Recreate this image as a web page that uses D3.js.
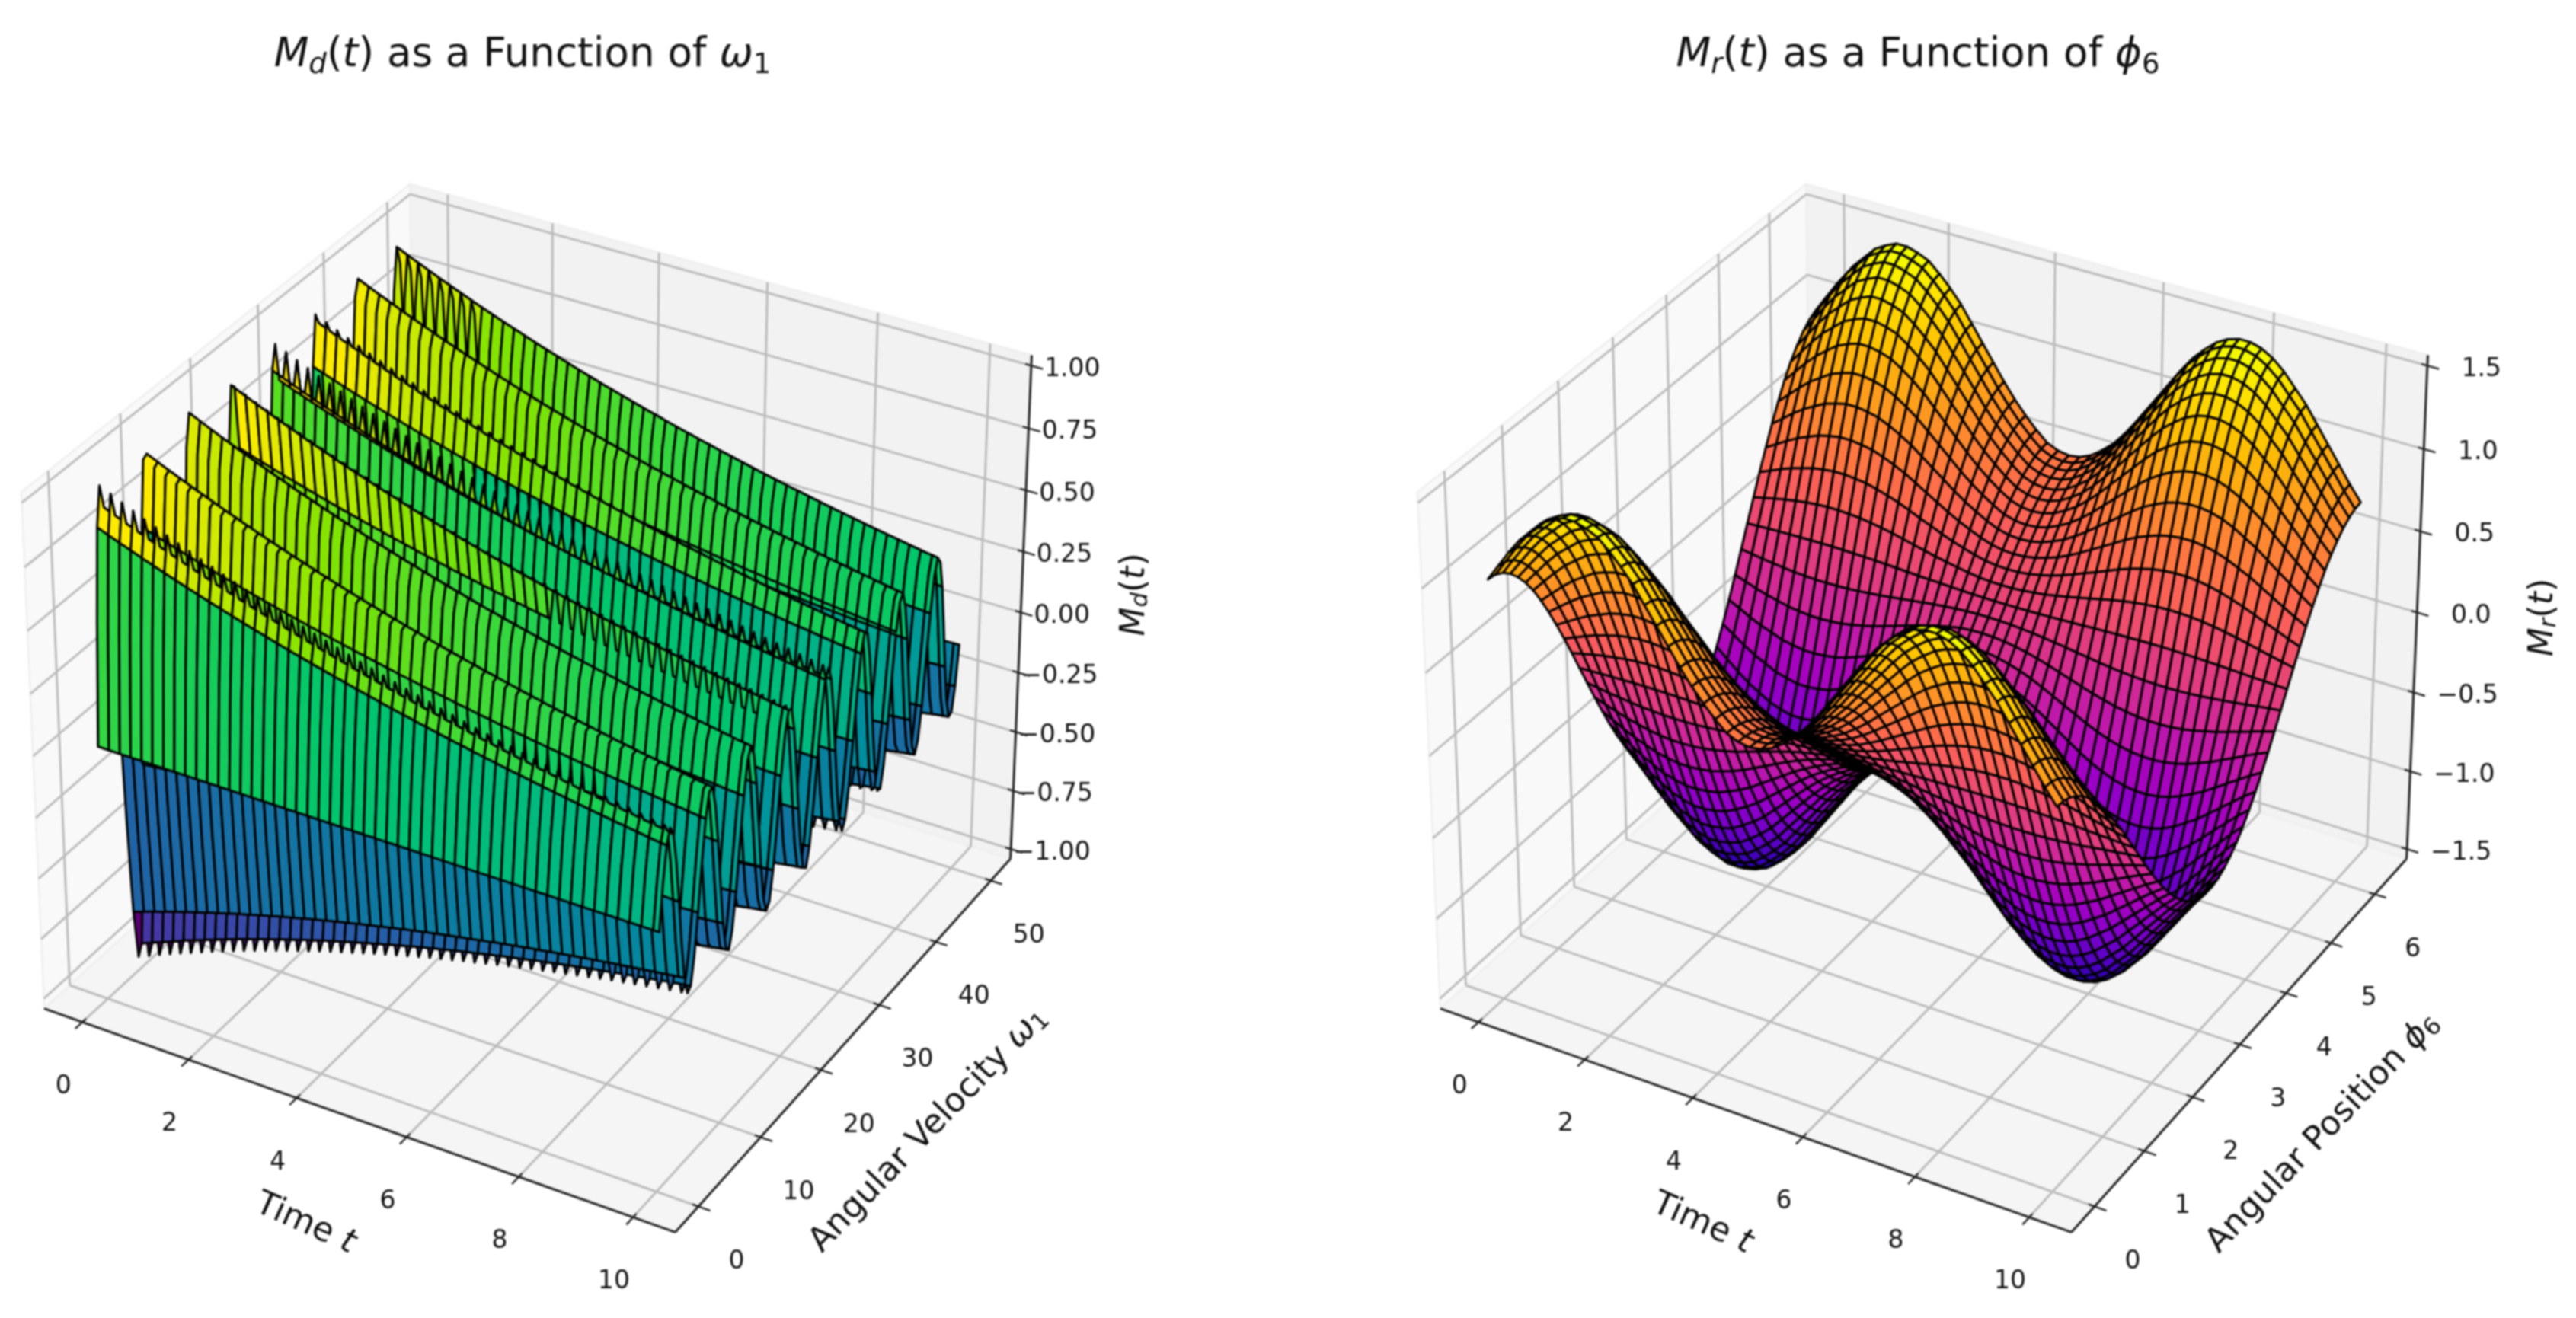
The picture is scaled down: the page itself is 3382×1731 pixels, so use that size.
<!DOCTYPE html>
<html>
<head>
<meta charset="utf-8">
<script src="https://cdn.jsdelivr.net/npm/d3@7"></script>
<style>
  html, body { margin: 0; padding: 0; background: #fff; }
  svg { display: block; filter: blur(0.8px); }
  text { font-family: "DejaVu Sans", sans-serif; fill: #111; }
</style>
</head>
<body>
<svg id="chart" width="3382" height="1731"></svg>
<script>
// ---- left surface: readings along time and along angular velocity
var velocityTicks = [0, 10, 20, 30, 40, 50];
var timeTicks = [0, 2, 4, 6, 8, 10];
var dampedTicks = [-1, -0.75, -0.5, -0.25, 0, 0.25, 0.5, 0.75, 1];

var dampedTime = [0,.101,.202,.303,.404,.505,.606,.707,.808,.909,1.01,1.111,1.212,1.313,1.414,1.515,1.616,1.717,1.818,1.919,2.02,2.121,2.222,2.323,2.424,2.525,2.626,2.727,2.828,2.929,3.03,3.131,3.232,3.333,3.434,3.535,3.636,3.737,3.838,3.939,4.04,4.141,4.242,4.343,4.444,4.545,4.646,4.747,4.848,4.949,5.051,5.152,5.253,5.354,5.455,5.556,5.657,5.758,5.859,5.96,6.061,6.162,6.263,6.364,6.465,6.566,6.667,6.768,6.869,6.97,7.071,7.172,7.273,7.374,7.475,7.576,7.677,7.778,7.879,7.98,8.081,8.182,8.283,8.384,8.485,8.586,8.687,8.788,8.889,8.99,9.091,9.192,9.293,9.394,9.495,9.596,9.697,9.798,9.899,10];

var dampedEnvelope = [1,.99,.98,.97,.96,.951,.941,.932,.922,.913,.904,.895,.886,.877,.868,.859,.851,.842,.834,.825,.817,.809,.801,.793,.785,.777,.769,.761,.754,.746,.739,.731,.724,.716,.709,.702,.695,.688,.681,.674,.668,.661,.654,.648,.641,.635,.628,.622,.616,.61,.603,.597,.591,.585,.579,.574,.568,.562,.557,.551,.545,.54,.535,.529,.524,.519,.513,.508,.503,.498,.493,.488,.483,.478,.474,.469,.464,.459,.455,.45,.446,.441,.437,.432,.428,.424,.419,.415,.411,.407,.403,.399,.395,.391,.387,.383,.379,.375,.372,.368];

var velocity = [0,.505,1.01,1.515,2.02,2.525,3.03,3.535,4.04,4.545,5.051,5.556,6.061,6.566,7.071,7.576,8.081,8.586,9.091,9.596,10.101,10.606,11.111,11.616,12.121,12.626,13.131,13.636,14.141,14.646,15.152,15.657,16.162,16.667,17.172,17.677,18.182,18.687,19.192,19.697,20.202,20.707,21.212,21.717,22.222,22.727,23.232,23.737,24.242,24.747,25.253,25.758,26.263,26.768,27.273,27.778,28.283,28.788,29.293,29.798,30.303,30.808,31.313,31.818,32.323,32.828,33.333,33.838,34.343,34.848,35.354,35.859,36.364,36.869,37.374,37.879,38.384,38.889,39.394,39.899,40.404,40.909,41.414,41.919,42.424,42.929,43.434,43.939,44.444,44.949,45.455,45.96,46.465,46.97,47.475,47.98,48.485,48.99,49.495,50];

var velocityProfile = [0,.484,.847,.998,.901,.579,.111,-.383,-.783,-.986,-.943,-.664,-.222,.279,.709,.962,.974,.743,.327,-.171,-.627,-.925,-.993,-.813,-.431,.06,.535,.877,1,.873,.528,.051,-.44,-.82,-.994,-.922,-.619,-.162,.335,.749,.976,.959,.703,.271,-.228,-.67,-.946,-.985,-.778,-.377,.12,.585,.904,.998,.842,.476,-.008,-.491,-.853,-.999,-.898,-.571,-.103,.391,.788,.987,.941,.659,.213,-.287,-.714,-.964,-.972,-.738,-.319,.179,.633,.928,.992,.808,.422,-.068,-.543,-.88,-1,-.869,-.521,-.043,.446,.823,.995,.918,.612,.153,-.344,-.755,-.978,-.956,-.696,-.263];

// ---- right surface: readings along time and along angular position
var positionTicks = [0, 1, 2, 3, 4, 5, 6];
var restoringTicks = [-1.5, -1, -0.5, 0, 0.5, 1, 1.5];

var restoringTime = [0,.204,.408,.612,.816,1.02,1.224,1.429,1.633,1.837,2.041,2.245,2.449,2.653,2.857,3.061,3.265,3.469,3.673,3.878,4.082,4.286,4.49,4.694,4.898,5.102,5.306,5.51,5.714,5.918,6.122,6.327,6.531,6.735,6.939,7.143,7.347,7.551,7.755,7.959,8.163,8.367,8.571,8.776,8.98,9.184,9.388,9.592,9.796,10];

var restoringEnvelope = [1,1.1,1.2,1.29,1.36,1.43,1.47,1.5,1.5,1.48,1.45,1.39,1.32,1.24,1.14,1.04,.94,.84,.75,.67,.6,.54,.51,.5,.51,.54,.59,.65,.73,.82,.92,1.02,1.12,1.22,1.31,1.38,1.44,1.48,1.5,1.5,1.48,1.44,1.38,1.3,1.22,1.12,1.02,.92,.82,.73];

var position = [0,.128,.256,.385,.513,.641,.769,.898,1.026,1.154,1.282,1.41,1.539,1.667,1.795,1.923,2.052,2.18,2.308,2.436,2.565,2.693,2.821,2.949,3.077,3.206,3.334,3.462,3.59,3.719,3.847,3.975,4.103,4.232,4.36,4.488,4.616,4.744,4.873,5.001,5.129,5.257,5.386,5.514,5.642,5.77,5.898,6.027,6.155,6.283];

var positionProfile = [1,.992,.967,.926,.87,.802,.721,.623,.518,.404,.285,.16,.032,-.096,-.223,-.345,-.463,-.572,-.672,-.761,-.838,-.901,-.949,-.982,-.998,-.998,-.982,-.949,-.901,-.838,-.761,-.672,-.572,-.463,-.345,-.223,-.096,.032,.16,.285,.404,.518,.623,.721,.802,.87,.926,.967,.992,1];

// camera of the 3d box
var elev = 30 * Math.PI / 180, azim = -60 * Math.PI / 180;
var camDist = 10;
var boxNorm = Math.sqrt(4 * 4 + 4 * 4 + 3 * 3);
var boxHalf = [4, 4, 3].map(function(a) { return a * 1.8294640721620434 * (25 / 24) / boxNorm / 2; });
var camW = [Math.cos(elev) * Math.cos(azim), Math.cos(elev) * Math.sin(azim), Math.sin(elev)];
var uLen = Math.hypot(camW[1], camW[0]);
var camU = [-camW[1] / uLen, camW[0] / uLen, 0];
var camV = [
  camW[1] * camU[2] - camW[2] * camU[1],
  camW[2] * camU[0] - camW[0] * camU[2],
  camW[0] * camU[1] - camW[1] * camU[0]
];
function dot(a, b) { return a[0] * b[0] + a[1] * b[1] + a[2] * b[2]; }

var svg = d3.select("#chart");
var line = d3.line();

// surface -> list of polygons, each walks the full perimeter of a stride x stride cell
function buildCells(xs, ys, table, stride) {
  function inds(n) {
    var r = [];
    for (var i = 0; i < n - 1; i += stride) r.push(i);
    r.push(n - 1);
    return r;
  }
  var ri = inds(xs.length), ci = inds(ys.length), cells = [];
  for (var a = 0; a < ri.length - 1; a++) {
    for (var b = 0; b < ci.length - 1; b++) {
      var i0 = ri[a], i1 = ri[a + 1], j0 = ci[b], j1 = ci[b + 1], pts = [], i, j;
      for (i = i0; i < i1; i++) pts.push([xs[i], ys[j0], table[i][j0]]);
      for (j = j0; j < j1; j++) pts.push([xs[i1], ys[j], table[i1][j]]);
      for (i = i1; i > i0; i--) pts.push([xs[i], ys[j1], table[i][j1]]);
      for (j = j1; j > j0; j--) pts.push([xs[i0], ys[j], table[i0][j]]);
      cells.push(pts);
    }
  }
  return cells;
}

function mathText(sel, parts, size) {
  var shifted = false;
  parts.forEach(function(p) {
    var ts = sel.append("tspan").text(p.t);
    if (p.i) ts.style("font-style", "italic");
    if (p.s) {
      ts.style("font-size", size * 0.7 + "px");
      if (!shifted) ts.attr("dy", size * 0.17);
      shifted = true;
    } else {
      if (shifted) ts.attr("dy", -size * 0.17);
      shifted = false;
    }
  });
}

function drawPanel(o) {
  var g = svg.append("g");
  var xBox = d3.scaleLinear().domain(o.xDomain).range([-boxHalf[0], boxHalf[0]]);
  var yBox = d3.scaleLinear().domain(o.yDomain).range([-boxHalf[1], boxHalf[1]]);
  var zBox = d3.scaleLinear().domain(o.zDomain).range([-boxHalf[2], boxHalf[2]]);
  var pxX = d3.scaleLinear().domain([0, 1]).range([o.originX, o.originX + 7972]);
  var pxY = d3.scaleLinear().domain([0, 1]).range([897, 897 - 8658]);

  function project(x, y, z) {
    var b = [xBox(x), yBox(y), zBox(z)];
    var d = camDist - dot(camW, b);
    return [pxX(dot(camU, b) / d), pxY(dot(camV, b) / d)];
  }
  function depth(x, y, z) {
    return dot(camW, [xBox(x), yBox(y), zBox(z)]);
  }
  function seg(a, b, color, width) {
    g.append("path")
      .attr("d", line([project.apply(null, a), project.apply(null, b)]))
      .attr("fill", "none").attr("stroke", color).attr("stroke-width", width);
  }

  var x0 = o.xDomain[0], x1 = o.xDomain[1], y0 = o.yDomain[0], y1 = o.yDomain[1], z0 = o.zDomain[0], z1 = o.zDomain[1];
  var dx = x1 - x0, dy = y1 - y0;

  // panes
  [
    {fill: "#f9f9f9", pts: [[x0, y0, z0], [x0, y1, z0], [x0, y1, z1], [x0, y0, z1]]},
    {fill: "#f2f2f2", pts: [[x0, y1, z0], [x1, y1, z0], [x1, y1, z1], [x0, y1, z1]]},
    {fill: "#f5f5f5", pts: [[x0, y0, z0], [x1, y0, z0], [x1, y1, z0], [x0, y1, z0]]}
  ].forEach(function(p) {
    g.append("path")
      .attr("d", line(p.pts.map(function(q) { return project(q[0], q[1], q[2]); })) + "Z")
      .attr("fill", p.fill).attr("stroke", "#efefef").attr("stroke-width", 2.5);
  });

  // grid
  var gridColor = "#bcbcbc", gridW = 3;
  o.xTicks.forEach(function(t) {
    seg([t, y0, z0], [t, y1, z0], gridColor, gridW);
    seg([t, y1, z0], [t, y1, z1], gridColor, gridW);
  });
  o.yTicks.forEach(function(t) {
    seg([x0, t, z0], [x1, t, z0], gridColor, gridW);
    seg([x0, t, z0], [x0, t, z1], gridColor, gridW);
  });
  o.zTicks.forEach(function(t) {
    seg([x0, y0, t], [x0, y1, t], gridColor, gridW);
    seg([x0, y1, t], [x1, y1, t], gridColor, gridW);
  });

  // axis lines and ticks
  var axisColor = "#222", axisW = 3;
  seg([x0, y0, z0], [x1, y0, z0], axisColor, axisW);
  seg([x1, y0, z0], [x1, y1, z0], axisColor, axisW);
  seg([x1, y1, z0], [x1, y1, z1], axisColor, axisW);

  var labels = g.append("g").attr("font-size", 33);
  o.xTicks.forEach(function(t) {
    seg([t, y0 - dy * 0.018, z0], [t, y0 + dy * 0.009, z0], axisColor, 2.4);
    var p = project(t, y0, z0);
    labels.append("text").attr("x", p[0] - 25).attr("y", p[1] + 84)
      .attr("text-anchor", "middle").attr("dominant-baseline", "middle").text(t);
  });
  o.yTicks.forEach(function(t) {
    seg([x1 - dx * 0.009, t, z0], [x1 + dx * 0.018, t, z0], axisColor, 2.4);
    var p = project(x1, t, z0);
    labels.append("text").attr("x", p[0] + 50).attr("y", p[1] + 72)
      .attr("text-anchor", "middle").attr("dominant-baseline", "middle").text(t);
  });
  o.zTicks.forEach(function(t) {
    seg([x1 - dx * 0.009, y1, t], [x1 + dx * 0.018, y1, t], axisColor, 2.4);
    var p = project(x1, y1, t);
    labels.append("text").attr("x", p[0] + o.zLabelGap).attr("y", p[1] + 4)
      .attr("text-anchor", "middle").attr("dominant-baseline", "middle").text(o.zFormat(t).replace("-", "\u2212"));
  });

  // surface, far cells first
  var cells = buildCells(o.xs, o.ys, o.table, o.stride).map(function(pts) {
    return {
      pts: pts,
      depth: d3.mean(pts, function(p) { return depth(p[0], p[1], p[2]); }),
      level: d3.mean(pts, function(p) { return p[2]; })
    };
  }).sort(function(a, b) { return a.depth - b.depth; });
  var color = d3.scaleSequential(o.cmap).domain(d3.extent(cells, function(c) { return c.level; }));

  g.append("g").style("filter", "saturate(" + o.saturate + ")").selectAll("path").data(cells).enter().append("path")
    .attr("d", function(c) { return line(c.pts.map(function(p) { return project(p[0], p[1], p[2]); })) + "Z"; })
    .attr("fill", function(c) { return color(c.level); })
    .attr("stroke", "#000").attr("stroke-width", o.edge).attr("stroke-linejoin", "round");

  // titles and axis names
  mathText(g.append("text").attr("x", o.titleX).attr("y", 87).attr("font-size", 53).attr("text-anchor", "middle"), o.title, 53);
  o.names.forEach(function(n) {
    mathText(g.append("text").attr("font-size", 44).attr("text-anchor", "middle").attr("dominant-baseline", "middle")
      .attr("transform", "translate(" + n.x + "," + n.y + ") rotate(" + n.rot + ")"), n.parts, 44);
  });
}

function crossTable(rowVals, colVals) {
  return rowVals.map(function(r) { return colVals.map(function(c) { return r * c; }); });
}

drawPanel({
  originX: 704, stride: 2, edge: 3, saturate: 1.5,
  xs: dampedTime, ys: velocity, table: crossTable(dampedEnvelope, velocityProfile),
  xDomain: [-0.729, 10.729], yDomain: [-3.645, 53.645], zDomain: [-1.0417, 1.0417],
  xTicks: timeTicks, yTicks: velocityTicks, zTicks: dampedTicks,
  zFormat: d3.format(".2f"), zLabelGap: 54,
  cmap: d3.interpolateViridis,
  titleX: 686,
  title: [{t: "M", i: 1}, {t: "d", i: 1, s: 1}, {t: "("}, {t: "t", i: 1}, {t: ") as a Function of "}, {t: "\u03c9", i: 1}, {t: "1", s: 1}],
  names: [
    {x: 401, y: 1607, rot: 24, parts: [{t: "Time "}, {t: "t", i: 1}]},
    {x: 1219, y: 1484, rot: -46, parts: [{t: "Angular Velocity "}, {t: "\u03c9", i: 1}, {t: "1", s: 1}]},
    {x: 1490, y: 781, rot: -90, parts: [{t: "M", i: 1}, {t: "d", i: 1, s: 1}, {t: "("}, {t: "t", i: 1}, {t: ")"}]}
  ]
});

drawPanel({
  originX: 2537, stride: 1, edge: 3, saturate: 1.25,
  xs: restoringTime, ys: position, table: crossTable(restoringEnvelope, positionProfile),
  xDomain: [-0.729, 10.729], yDomain: [-0.458, 6.741], zDomain: [-1.5625, 1.5625],
  xTicks: timeTicks, yTicks: positionTicks, zTicks: restoringTicks,
  zFormat: d3.format(".1f"), zLabelGap: 71,
  cmap: d3.interpolatePlasma,
  titleX: 2518,
  title: [{t: "M", i: 1}, {t: "r", i: 1, s: 1}, {t: "("}, {t: "t", i: 1}, {t: ") as a Function of "}, {t: "\u03d5", i: 1}, {t: "6", s: 1}],
  names: [
    {x: 2235, y: 1607, rot: 24, parts: [{t: "Time "}, {t: "t", i: 1}]},
    {x: 3050, y: 1488, rot: -46, parts: [{t: "Angular Position "}, {t: "\u03d5", i: 1}, {t: "6", s: 1}]},
    {x: 3339, y: 811, rot: -90, parts: [{t: "M", i: 1}, {t: "r", i: 1, s: 1}, {t: "("}, {t: "t", i: 1}, {t: ")"}]}
  ]
});
</script>
</body>
</html>
